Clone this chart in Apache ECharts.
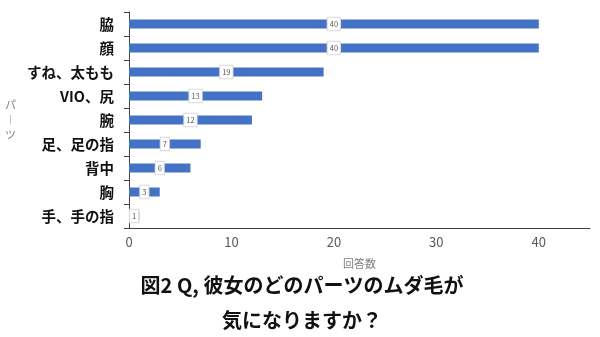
<!DOCTYPE html>
<html>
<head>
<meta charset="utf-8">
<script src="https://cdn.jsdelivr.net/npm/echarts@6/dist/echarts.min.js"></script>
<style>
  html, body { margin: 0; padding: 0; background: #fff; }
  #chart { width: 600px; height: 337px; }
</style>
</head>
<body>
<div id="chart"></div>
<script>
// Body parts (top to bottom) and number of answers
const parts = ['脇', '顔', 'すね、太もも', 'VIO、尻', '腕', '足、足の指', '背中', '胸', '手、手の指'];
const counts = [40, 40, 19, 13, 12, 7, 6, 3, 1];
const xTicks = [0, 10, 20, 30, 40];

const FONT = '"Noto Sans CJK JP", "Noto Sans", sans-serif';
const chart = echarts.init(document.getElementById('chart'));

chart.setOption({
  backgroundColor: '#ffffff',
  animation: false,
  textStyle: { fontFamily: FONT },
  title: {
    text: '図2 Q, 彼女のどのパーツのムダ毛が\n気になりますか？',
    left: 297,
    textAlign: 'center',
    top: 263,
    textStyle: {
      fontFamily: FONT,
      fontSize: 20,
      fontWeight: 'bold',
      color: '#111111',
      lineHeight: 35
    }
  },
  grid: { left: 129, right: 10, top: 12, bottom: 109, containLabel: false },
  xAxis: {
    type: 'value',
    min: xTicks[0],
    max: 45,
    interval: 10,
    name: '回答数',
    nameLocation: 'middle',
    nameGap: 30,
    nameTextStyle: { fontFamily: FONT, fontSize: 11, color: '#7f7f7f' },
    axisLine: { show: true, lineStyle: { color: '#404040', width: 1 } },
    axisTick: { show: false },
    splitLine: { show: false },
    axisLabel: {
      fontFamily: FONT,
      fontSize: 13,
      color: '#595959',
      margin: 8,
      showMaxLabel: false,
      formatter: v => (xTicks.indexOf(v) >= 0 ? String(v) : '')
    }
  },
  yAxis: {
    type: 'category',
    data: parts,
    inverse: true,
    name: 'パ\n︱\nツ',
    nameLocation: 'middle',
    nameGap: 113,
    nameRotate: 0,
    nameTextStyle: { fontFamily: FONT, fontSize: 11, color: '#7f7f7f', lineHeight: 15 },
    axisLine: { show: true, lineStyle: { color: '#404040', width: 1 } },
    axisTick: { show: true, length: 5, lineStyle: { color: '#404040' } },
    axisLabel: {
      fontFamily: FONT,
      fontSize: 14.5,
      fontWeight: 'bold',
      color: '#111111',
      margin: 15
    }
  },
  series: [{
    type: 'bar',
    data: counts,
    barWidth: 9,
    itemStyle: { color: '#4472c4' },
    label: {
      show: true,
      position: 'inside',
      fontFamily: FONT,
      fontSize: 7.5,
      color: '#595959',
      backgroundColor: '#ffffff',
      borderColor: '#d9d9d9',
      borderWidth: 1,
      padding: [3, 2, 2, 2]
    }
  }]
});
</script>
</body>
</html>
